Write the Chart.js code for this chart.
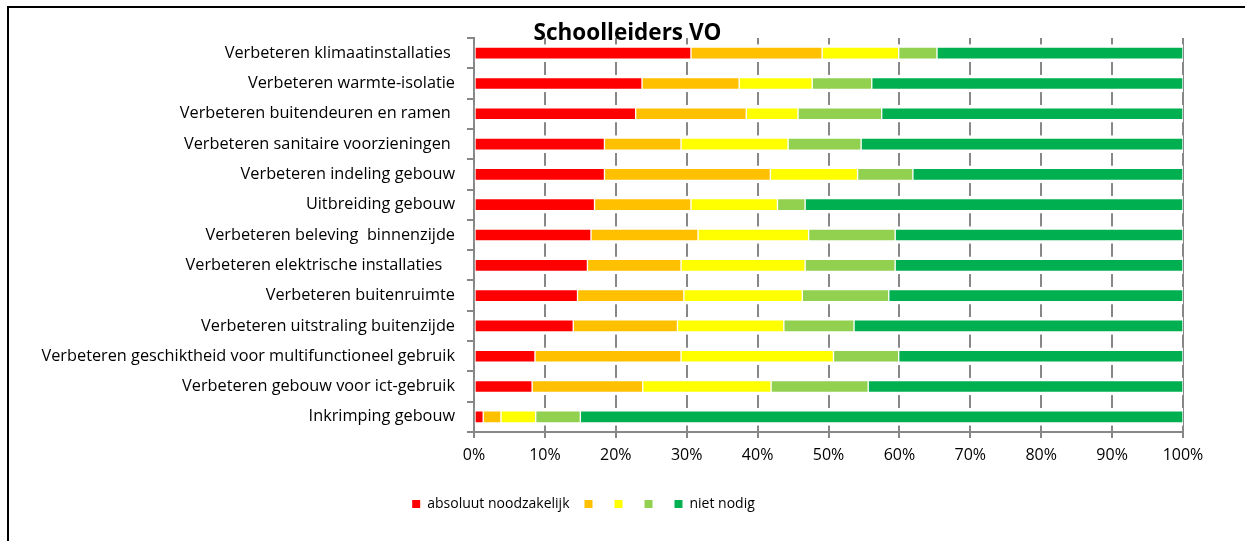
<!DOCTYPE html>
<html>
<head>
<meta charset="utf-8">
<script src="https://cdn.jsdelivr.net/npm/chart.js@4.4.1/dist/chart.umd.min.js"></script>
<style>
    html, body { margin: 0; padding: 0; background: #fff; overflow: hidden; }
    #wrap { position: relative; width: 1245px; height: 541px; }
    #frame { position: absolute; left: 7px; top: 6px; width: 1400px; height: 700px; border-left: 2px solid #000; border-top: 2px solid #000; }
    #chart { position: absolute; left: 0; top: 0; }
</style>
</head>
<body>
<div id="wrap">
    <div id="frame"></div>
    <canvas id="chart" width="1245" height="541"></canvas>
</div>
<script>
// categorieën (van boven naar beneden)
const categories = [
    'Verbeteren klimaatinstallaties ',
    'Verbeteren warmte-isolatie',
    'Verbeteren buitendeuren en ramen ',
    'Verbeteren sanitaire voorzieningen ',
    'Verbeteren indeling gebouw',
    'Uitbreiding gebouw',
    'Verbeteren beleving  binnenzijde',
    'Verbeteren elektrische installaties   ',
    'Verbeteren buitenruimte',
    'Verbeteren uitstraling buitenzijde',
    'Verbeteren geschiktheid voor multifunctioneel gebruik',
    'Verbeteren gebouw voor ict-gebruik',
    'Inkrimping gebouw'
]

// percentages per antwoordcategorie
const absoluutNoodzakelijk = [30.6, 23.7, 22.8, 18.4, 18.4, 17.0, 16.5, 16.0, 14.6, 14.0, 8.6, 8.2, 1.3]
const categorie2 = [18.5, 13.7, 15.6, 10.8, 23.4, 13.6, 15.1, 13.2, 15.0, 14.7, 20.6, 15.6, 2.5]
const categorie3 = [10.8, 10.3, 7.3, 15.1, 12.3, 12.2, 15.6, 17.5, 16.7, 15.0, 21.5, 18.1, 4.9]
const categorie4 = [5.4, 8.4, 11.8, 10.3, 7.8, 3.9, 12.2, 12.7, 12.2, 9.9, 9.2, 13.7, 6.3]
const nietNodig = [34.7, 43.9, 42.5, 45.4, 38.1, 53.3, 40.6, 40.6, 41.5, 46.4, 40.1, 44.4, 85.0]

const seriesLabels = ['absoluut noodzakelijk', '', '', '', 'niet nodig']
const seriesColors = ['#FF0000', '#FFC000', '#FFFF00', '#92D050', '#00B050']
const seriesData = [absoluutNoodzakelijk, categorie2, categorie3, categorie4, nietNodig]

Chart.defaults.font.family = "'Open Sans', sans-serif"
Chart.defaults.color = '#000'

const gridGray = '#878787'

// titel en legenda iets verschuiven zoals in Excel
const shiftBlocks = {
    id: 'shiftBlocks',
    afterLayout(chart) {
        chart.titleBlock.left += 36
        chart.titleBlock.right += 36
        chart.legend.left -= 8
        chart.legend.right -= 8
    }
}

const datasets = seriesData.map((data, i) => ({
    label: seriesLabels[i],
    data: data,
    backgroundColor: seriesColors[i],
    borderColor: '#ffffff',
    borderWidth: {top: 3.5, bottom: 3.5, left: 1, right: 1},
    borderSkipped: false,
    barThickness: 17
}))

const ctx = document.getElementById('chart').getContext('2d')
new Chart(ctx, {
    type: 'bar',
    data: {labels: categories, datasets: datasets},
    plugins: [shiftBlocks],
    options: {
        indexAxis: 'y',
        responsive: false,
        animation: false,
        devicePixelRatio: 1,
        layout: {padding: {left: 0, right: 62, top: 0, bottom: 20}},
        plugins: {
            title: {
                display: true,
                text: 'Schoolleiders VO',
                color: '#000',
                font: {size: 22.5, weight: 'bold'},
                padding: {top: 20, bottom: -9}
            },
            legend: {
                position: 'bottom',
                labels: {
                    boxWidth: 8,
                    boxHeight: 8,
                    padding: 15,
                    font: {size: 14},
                    color: '#000',
                    generateLabels: (chart) => Chart.defaults.plugins.legend.labels.generateLabels(chart)
                        .map(item => ({...item, lineWidth: 0}))
                }
            },
            tooltip: {enabled: false}
        },
        scales: {
            x: {
                type: 'linear',
                stacked: true,
                min: 0,
                max: 100,
                ticks: {
                    stepSize: 10,
                    padding: 8,
                    font: {size: 16},
                    callback: v => v + '%'
                },
                grid: {color: gridGray, lineWidth: 2, tickLength: 6},
                border: {color: gridGray, width: 2},
                afterFit: scale => { scale.height = 50 }
            },
            y: {
                stacked: true,
                ticks: {font: {size: 16.3}, padding: 12, autoSkip: false},
                grid: {display: true, drawOnChartArea: false, offset: true, tickLength: 7, color: gridGray, lineWidth: 2},
                border: {color: gridGray, width: 2},
                afterFit: scale => { scale.width = 474 }
            }
        }
    }
})
</script>
</body>
</html>
